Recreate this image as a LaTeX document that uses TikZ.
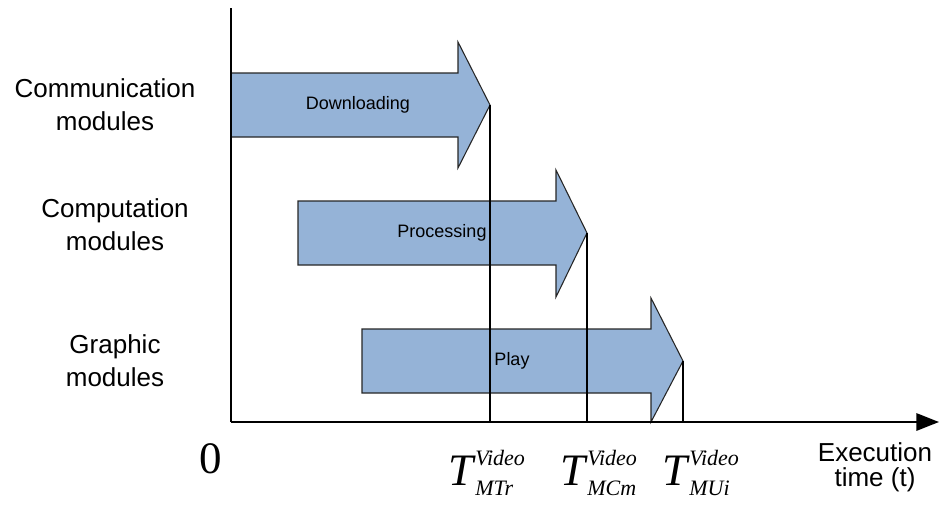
\documentclass[tikz,border=0pt]{standalone}
\usepackage{fontspec}
\setmainfont{Liberation Sans}
\newfontfamily\timesfont{Liberation Serif}
\usetikzlibrary{arrows.meta}

% time label: italic T with a superscript and a subscript
\newcommand\timelabel[1]{{\timesfont\itshape
  \fontsize{33.75pt}{34pt}\selectfont T\kern1.5pt%
  \fontsize{16.5pt}{17pt}\selectfont
  \rlap{\raisebox{15pt}{Video}}\raisebox{-7.5pt}{#1}\phantom{Video}}}

\tikzset{
  phase/.style={draw=black!85, line width=0.8pt, fill=phaseblue, line join=miter},
  phasetext/.style={font=\fontsize{13.5pt}{16pt}\selectfont, inner sep=0pt},
  rowlabel/.style={font=\fontsize{19.5pt}{24.75pt}\selectfont, align=center, inner sep=0pt},
  axis/.style={line width=1.6pt, black},
  drop/.style={line width=1pt, black},
}
\definecolor{phaseblue}{HTML}{95B3D7}

\begin{document}
\begin{tikzpicture}[x=0.75pt, y=-0.75pt]
\useasboundingbox (0,0) rectangle (940,504);

% phase arrows
\draw[phase] (231,73) -- (458,73) -- (458,42) -- (490,105) -- (458,168) -- (458,137) -- (231,137) -- cycle;
\draw[phase] (298,201) -- (556,201) -- (556,170) -- (587,233) -- (556,297) -- (556,265) -- (298,265) -- cycle;
\draw[phase] (362,329) -- (651,329) -- (651,298) -- (683,361) -- (651,422) -- (651,393) -- (362,393) -- cycle;

\node[phasetext] (dl) at (358,105) {Downloading};
\node[phasetext] (pr) at (442,233) {Processing};
\node[phasetext] (pl) at (512,361) {Play};

% end-of-phase markers
\coordinate (tipA) at (490,105);
\coordinate (tipB) at (587,233);
\coordinate (tipC) at (683,361);
\coordinate (footA) at (490,422);
\coordinate (footB) at (587,422);
\coordinate (footC) at (683,422);
\draw[drop] (tipA) -- (footA);
\draw[drop] (tipB) -- (footB);
\draw[drop] (tipC) -- (footC);

% axes
\coordinate (origin) at (231,422);
\coordinate (ytop) at (231,8);
\coordinate (xend) at (939,422);
\draw[axis] (origin) -- (ytop);
\draw[axis, -{Triangle[length=17pt, width=13pt]}] (origin) -- (xend);

% row labels
\node[rowlabel] (comm) at (105,105) {Communication\\modules};
\node[rowlabel] (comp) at (115,225) {Computation\\modules};
\node[rowlabel] (graph) at (115,361) {Graphic\\modules};

\node[rowlabel, font=\fontsize{19.5pt}{18.75pt}\selectfont] (xlabel) at (875,467) {Execution\\time (t)};

\node[inner sep=0pt, font=\timesfont\fontsize{33.75pt}{34pt}\selectfont] (zero) at (211,459) {0};

\node[anchor=base west, inner sep=0pt] (tA) at (448,485) {\timelabel{MTr}};
\node[anchor=base west, inner sep=0pt] (tB) at (560,485) {\timelabel{MCm}};
\node[anchor=base west, inner sep=0pt] (tC) at (662,485) {\timelabel{MUi}};
\end{tikzpicture}
\end{document}
